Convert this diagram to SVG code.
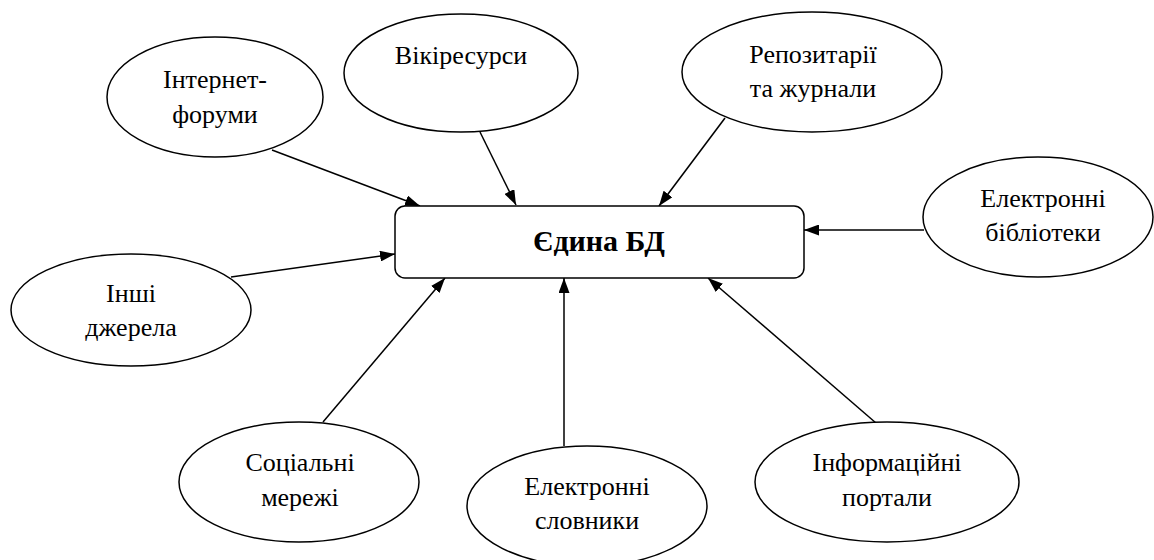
<svg xmlns="http://www.w3.org/2000/svg" width="1154" height="560" viewBox="0 0 1154 560">
<defs>
<marker id="arr" viewBox="0 0 15 11" refX="15" refY="5.5" markerWidth="15" markerHeight="11" markerUnits="userSpaceOnUse" orient="auto">
<path d="M0,0 L15,5.5 L0,11 Z" fill="#000"/>
</marker>
<style>
.n{fill:#fff;stroke:#000;stroke-width:1.5}
.t{font-family:"Liberation Serif","Times New Roman",serif;font-size:26px;fill:#000;text-anchor:middle}
.b{font-weight:bold;font-size:30px}
.c line{stroke:#000;stroke-width:1.5;marker-end:url(#arr)}
</style>
</defs>
<rect width="1154" height="560" fill="#fff"/>
<g class="c" id="connectors">
<line x1="272" y1="150" x2="420" y2="206"/>
<line x1="480" y1="132" x2="516" y2="205"/>
<line x1="725" y1="118" x2="659" y2="206"/>
<line x1="924" y1="230" x2="804" y2="230"/>
<line x1="231" y1="277" x2="395" y2="254"/>
<line x1="323" y1="422" x2="445" y2="278"/>
<line x1="564" y1="446" x2="564" y2="278"/>
<line x1="876" y1="423" x2="708" y2="278"/>
</g>
<g id="db">
<rect class="n" x="395" y="206" width="409" height="72" rx="10"/>
<text class="t b" x="599" y="251">Єдина БД</text>
</g>
<g id="forums">
<ellipse class="n" cx="215" cy="97" rx="108" ry="60"/>
<text class="t" x="215" y="88">Інтернет-</text>
<text class="t" x="215" y="123">форуми</text>
</g>
<g id="wiki">
<ellipse class="n" cx="461" cy="73" rx="117" ry="59"/>
<text class="t" x="461" y="64">Вікіресурси</text>
</g>
<g id="repo">
<ellipse class="n" cx="812" cy="72" rx="130" ry="60"/>
<text class="t" x="813" y="63">Репозитарії</text>
<text class="t" x="813" y="97">та журнали</text>
</g>
<g id="libs">
<ellipse class="n" cx="1038" cy="217" rx="115" ry="60"/>
<text class="t" x="1043" y="207">Електронні</text>
<text class="t" x="1043" y="241">бібліотеки</text>
</g>
<g id="other">
<ellipse class="n" cx="131" cy="310" rx="120" ry="56"/>
<text class="t" x="131" y="302">Інші</text>
<text class="t" x="131" y="336">джерела</text>
</g>
<g id="social">
<ellipse class="n" cx="299" cy="482" rx="120" ry="60"/>
<text class="t" x="300" y="471">Соціальні</text>
<text class="t" x="300" y="506">мережі</text>
</g>
<g id="dicts">
<ellipse class="n" cx="587" cy="506" rx="120" ry="60"/>
<text class="t" x="587" y="495">Електронні</text>
<text class="t" x="587" y="529">словники</text>
</g>
<g id="portals">
<ellipse class="n" cx="887" cy="482" rx="132" ry="60"/>
<text class="t" x="887" y="471">Інформаційні</text>
<text class="t" x="887" y="506">портали</text>
</g>
</svg>
